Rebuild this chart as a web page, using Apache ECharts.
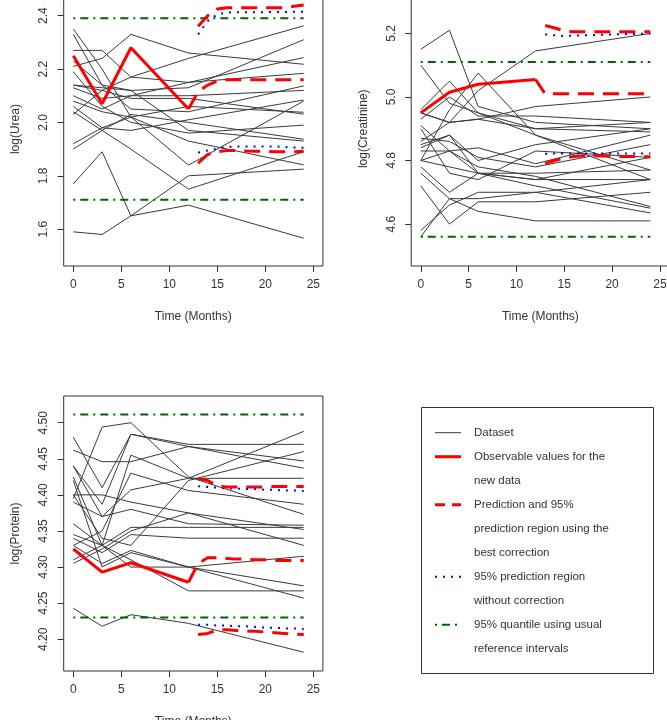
<!DOCTYPE html>
<html>
<head>
<meta charset="utf-8">
<script src="https://cdn.jsdelivr.net/npm/echarts@6/dist/echarts.min.js"></script>
<style>html,body{margin:0;padding:0;background:#fff}#main{width:667px;height:720px}</style>
</head>
<body>
<div id="main"></div>
<script>
// time points
var months = [0, 3, 6, 12, 24];
var obsMonths = [0, 3, 6, 12];
var midMonths = [12, 13, 14, 15, 16, 17, 18, 19, 20, 21, 22, 23, 24];
var bandMonths = [13, 14, 15, 16, 17, 18, 19, 20, 21, 22, 23, 24];
var refSpan = [0, 24];
var xTicks = [0, 5, 10, 15, 20, 25];

// log(Urea)
var ureaSubjects = [
  [2.35, 2.20, 2.02, 1.84, 2.08],
  [2.33, 2.14, 2.12, 1.97, 1.93],
  [2.21, 2.24, 2.33, 2.26, 2.218],
  [2.27, 2.27, 2.17, 2.15, 2.243],
  [2.14, 2.13, 2.12, 2.13, 2.31],
  [2.03, 2.12, 2.17, 2.24, 2.362],
  [2.13, 2.09, 2.10, 2.15, 2.184],
  [2.10, 2.05, 2.10, 2.10, 2.12],
  [2.23, 2.14, 2.05, 2.04, 2.137],
  [2.08, 2.04, 2.02, 2.06, 2.038],
  [2.14, 2.12, 2.09, 2.09, 2.031],
  [2.19, 2.06, 2.00, 1.96, 1.99],
  [2.06, 1.98, 1.97, 2.01, 2.084],
  [2.04, 1.97, 2.03, 2.00, 1.937],
  [1.92, 1.98, 2.02, 1.93, 1.841],
  [1.90, 1.97, 1.90, 1.75, 1.89],
  [1.77, 1.89, 1.65, 1.80, 1.825],
  [1.59, 1.58, 1.65, 1.69, 1.566]
];
var ureaObserved = [2.25, 2.07, 2.28, 2.05];
var ureaMid = [2.05, 2.115, 2.14, 2.155, 2.16, 2.16, 2.16, 2.16, 2.16, 2.16, 2.16, 2.16, 2.16];
var ureaUpper = [2.36, 2.40, 2.425, 2.43, 2.43, 2.43, 2.43, 2.43, 2.43, 2.43, 2.435, 2.44];
var ureaLower = [1.847, 1.88, 1.89, 1.895, 1.895, 1.893, 1.892, 1.892, 1.89, 1.89, 1.89, 1.892];
var ureaUpperRaw = [2.33, 2.38, 2.405, 2.412, 2.413, 2.413, 2.413, 2.413, 2.414, 2.414, 2.415, 2.415];
var ureaLowerRaw = [1.887, 1.895, 1.902, 1.908, 1.91, 1.91, 1.91, 1.91, 1.91, 1.908, 1.906, 1.905];
var ureaRef = [1.71, 2.39];
var ureaTicks = [1.6, 1.8, 2.0, 2.2, 2.4];

// log(Creatinine)
var creatSubjects = [
  [5.15, 5.21, 4.97, 4.92, 4.90],
  [5.10, 4.98, 4.95, 4.88, 4.74],
  [4.86, 4.92, 5.02, 5.145, 5.20],
  [4.95, 4.92, 4.93, 4.97, 5.00],
  [4.80, 4.96, 5.075, 4.88, 4.77],
  [4.96, 5.05, 4.95, 4.90, 4.92],
  [4.93, 5.00, 4.94, 4.94, 4.92],
  [4.85, 4.88, 4.80, 4.85, 4.90],
  [4.83, 4.83, 4.84, 4.79, 4.88],
  [4.84, 4.88, 4.76, 4.74, 4.74],
  [4.80, 4.78, 4.76, 4.72, 4.65],
  [4.78, 4.70, 4.76, 4.76, 4.77],
  [4.76, 4.68, 4.64, 4.61, 4.61],
  [4.72, 4.60, 4.67, 4.67, 4.70],
  [4.58, 4.66, 4.70, 4.70, 4.74],
  [4.56, 4.68, 4.68, 4.70, 4.635],
  [4.91, 4.83, 4.76, 4.74, 4.81],
  [4.90, 4.76, 4.74, 4.83, 4.81],
  [4.87, 4.86, 4.81, 4.78, 4.85],
  [4.95, 4.92, 4.93, 4.90, 4.89],
  [4.80, 4.83, 4.78, 4.75, 4.655]
];
var creatObserved = [4.95, 5.015, 5.04, 5.055];
var creatMid = [5.055, 5.01, 5.01, 5.01, 5.01, 5.01, 5.01, 5.01, 5.01, 5.01, 5.01, 5.01, 5.01];
var creatUpper = [5.225, 5.217, 5.208, 5.205, 5.205, 5.205, 5.205, 5.205, 5.205, 5.205, 5.205, 5.205];
var creatLower = [4.79, 4.80, 4.808, 4.813, 4.815, 4.815, 4.814, 4.814, 4.813, 4.813, 4.812, 4.812];
var creatUpperRaw = [5.197, 5.194, 5.192, 5.193, 5.194, 5.195, 5.196, 5.197, 5.198, 5.198, 5.199, 5.199];
var creatLowerRaw = [4.821, 4.822, 4.822, 4.822, 4.822, 4.822, 4.822, 4.822, 4.822, 4.822, 4.822, 4.822];
var creatRef = [4.56, 5.11];
var creatTicks = [4.6, 4.8, 5.0, 5.2];

// log(Protein)
var protSubjects = [
  [4.243, 4.218, 4.234, 4.222, 4.182],
  [4.395, 4.494, 4.500, 4.425, 4.373],
  [4.44, 4.387, 4.484, 4.467, 4.437],
  [4.462, 4.446, 4.446, 4.467, 4.447],
  [4.48, 4.41, 4.484, 4.47, 4.47],
  [4.425, 4.33, 4.455, 4.423, 4.423],
  [4.44, 4.37, 4.407, 4.423, 4.488],
  [4.33, 4.35, 4.43, 4.406, 4.387],
  [4.40, 4.40, 4.39, 4.375, 4.33],
  [4.39, 4.37, 4.38, 4.36, 4.358],
  [4.36, 4.33, 4.355, 4.355, 4.355],
  [4.34, 4.32, 4.345, 4.34, 4.34],
  [4.305, 4.325, 4.35, 4.375, 4.352],
  [4.33, 4.305, 4.323, 4.30, 4.315],
  [4.31, 4.33, 4.31, 4.267, 4.267],
  [4.42, 4.30, 4.32, 4.30, 4.257],
  [4.345, 4.33, 4.30, 4.30, 4.274],
  [4.40, 4.34, 4.33, 4.42, 4.46]
];
var protObserved = [4.325, 4.293, 4.306, 4.279];
var protMid = [4.279, 4.305, 4.313, 4.313, 4.312, 4.311, 4.311, 4.310, 4.310, 4.309, 4.309, 4.309, 4.309];
var protUpper = [4.4226, 4.42, 4.412, 4.411, 4.411, 4.411, 4.411, 4.411, 4.4115, 4.4115, 4.4115, 4.4115];
var protLower = [4.2065, 4.208, 4.213, 4.213, 4.212, 4.211, 4.211, 4.21, 4.209, 4.208, 4.207, 4.2065];
var protUpperRaw = [4.412, 4.411, 4.41, 4.409, 4.409, 4.408, 4.408, 4.407, 4.407, 4.406, 4.406, 4.4055];
var protLowerRaw = [4.22, 4.22, 4.219, 4.219, 4.218, 4.218, 4.217, 4.216, 4.216, 4.215, 4.215, 4.214];
var protRef = [4.23, 4.5115];
var protTicks = [4.20, 4.25, 4.30, 4.35, 4.40, 4.45, 4.50];

var FONT = "'Liberation Sans', Arial, sans-serif";
var INK = '#333';
var RED_DASH = [16, 9];
var BLUE_DOT = [2, 6];
var GREEN_DASHDOT = [2, 5, 8, 5];

function pairs(xs, ys) {
  return xs.map(function (x, i) { return [x, ys[i]]; });
}

function line(idx, data, color, width, type, z) {
  return {
    type: 'line', xAxisIndex: idx, yAxisIndex: idx, data: data,
    symbol: 'none', showSymbol: false, silent: true, animation: false, z: z,
    lineStyle: { color: color, width: width, type: type || 'solid' }
  };
}

var series = [];
function addPanel(idx, subjects, observed, mid, upper, lower, upperRaw, lowerRaw, refs) {
  subjects.forEach(function (s) {
    series.push(line(idx, pairs(months, s), '#3a3a3a', 1, 'solid', 2));
  });
  refs.forEach(function (r) {
    series.push(line(idx, pairs(refSpan, [r, r]), '#006400', 2, GREEN_DASHDOT, 3));
  });
  series.push(line(idx, pairs(bandMonths, upperRaw), '#0000ff', 2, BLUE_DOT, 4));
  series.push(line(idx, pairs(bandMonths, lowerRaw), '#0000ff', 2, BLUE_DOT, 4));
  series.push(line(idx, pairs(obsMonths, observed), '#ff0000', 3, 'solid', 5));
  series.push(line(idx, pairs(midMonths, mid), '#ff0000', 3, RED_DASH, 5));
  series.push(line(idx, pairs(bandMonths, upper), '#ff0000', 3, RED_DASH, 5));
  series.push(line(idx, pairs(bandMonths, lower), '#ff0000', 3, RED_DASH, 5));
}
addPanel(0, ureaSubjects, ureaObserved, ureaMid, ureaUpper, ureaLower, ureaUpperRaw, ureaLowerRaw, ureaRef);
addPanel(1, creatSubjects, creatObserved, creatMid, creatUpper, creatLower, creatUpperRaw, creatLowerRaw, creatRef);
addPanel(2, protSubjects, protObserved, protMid, protUpper, protLower, protUpperRaw, protLowerRaw, protRef);

function grid(left, top, width, height) {
  return { left: left, top: top, width: width, height: height, show: true,
    borderColor: INK, borderWidth: 1, backgroundColor: 'transparent',
    containLabel: false, outerBoundsMode: 'none' };
}

function xAxis(i) {
  return {
    gridIndex: i, type: 'value', min: -1, max: 26, position: 'bottom',
    name: 'Time (Months)', nameLocation: 'middle', nameGap: 45,
    nameTextStyle: { color: INK, fontSize: 12, fontFamily: FONT, verticalAlign: 'top' },
    axisLine: { show: false, onZero: false },
    axisTick: { show: true, length: 6, customValues: xTicks, lineStyle: { color: INK } },
    axisLabel: { customValues: xTicks, margin: 13, color: INK, fontSize: 12, fontFamily: FONT },
    splitLine: { show: false }
  };
}

function yAxis(i, name, min, max, ticks, dec) {
  return {
    gridIndex: i, type: 'value', min: min, max: max, position: 'left',
    name: name, nameLocation: 'middle', nameGap: 42,
    nameTextStyle: { color: INK, fontSize: 12, fontFamily: FONT },
    axisLine: { show: false, onZero: false },
    axisTick: { show: true, length: 6, customValues: ticks, lineStyle: { color: INK } },
    axisLabel: { customValues: ticks, rotate: 90, margin: 14, color: INK, fontSize: 12, fontFamily: FONT,
      formatter: function (v) { return v.toFixed(dec); } },
    splitLine: { show: false }
  };
}

// legend box, drawn by hand (R style)
var legendRows = [
  { y: 432.7, text: 'Dataset', color: '#3a3a3a', width: 1, dash: null },
  { y: 456.7, text: 'Observable values for the', color: '#ff0000', width: 3, dash: null },
  { y: 480.7, text: 'new data' },
  { y: 504.7, text: 'Prediction and 95%', color: '#ff0000', width: 3, dash: [10, 7] },
  { y: 528.7, text: 'prediction region using the' },
  { y: 552.7, text: 'best correction' },
  { y: 576.7, text: '95% prediction region', color: '#0000ff', width: 2, dash: BLUE_DOT },
  { y: 600.7, text: 'without correction' },
  { y: 624.7, text: '95% quantile using usual', color: '#006400', width: 2, dash: GREEN_DASHDOT },
  { y: 648.7, text: 'reference intervals' }
];
var legendParts = [{
  type: 'rect', shape: { x: 421.5, y: 407.5, width: 232, height: 266 },
  style: { fill: 'none', stroke: INK, lineWidth: 1 }
}];
legendRows.forEach(function (r) {
  if (r.color) {
    legendParts.push({ type: 'line', shape: { x1: 435, y1: r.y, x2: 461, y2: r.y },
      style: { stroke: r.color, lineWidth: r.width, lineDash: r.dash } });
  }
  legendParts.push({ type: 'text', x: 474, y: r.y,
    style: { text: r.text, fill: INK, font: '11.5px ' + FONT, textVerticalAlign: 'middle', verticalAlign: 'middle' } });
});

var chart = echarts.init(document.getElementById('main'), null, { renderer: 'canvas' });
chart.setOption({
  animation: false,
  backgroundColor: '#fff',
  grid: [
    grid(63.7, -7.8, 259.2, 273.8),
    grid(411.2, -8.5, 258.3, 274.5),
    grid(63.7, 396, 259.2, 275)
  ],
  xAxis: [xAxis(0), xAxis(1), xAxis(2)],
  yAxis: [
    yAxis(0, 'log(Urea)', 1.462, 2.488, ureaTicks, 1),
    yAxis(1, 'log(Creatinine)', 4.468, 5.332, creatTicks, 1),
    yAxis(2, 'log(Protein)', 4.156, 4.537, protTicks, 2)
  ],
  series: series,
  graphic: [{ type: 'group', silent: true, children: legendParts }]
});
</script>
</body>
</html>
